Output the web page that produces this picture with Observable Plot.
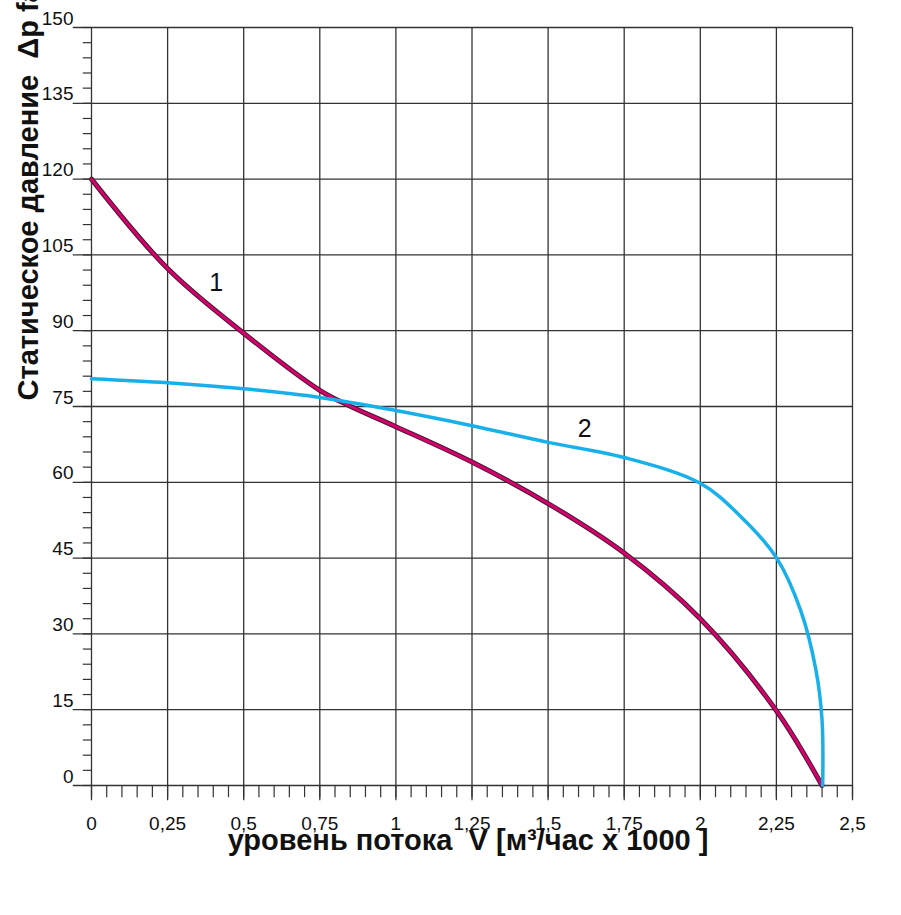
<!DOCTYPE html>
<html><head><meta charset="utf-8">
<script src="https://cdn.jsdelivr.net/npm/d3@7"></script>
<script src="https://cdn.jsdelivr.net/npm/@observablehq/plot@0.6"></script>
<style>body{margin:0;background:#fff}</style>
</head><body><div id="c"></div>
<script>
const c1x = [0,0.25,0.5,0.75,0.845,1.0,1.25,1.5,1.75,2.0,2.25,2.4];
const c1y = [120,102.3,89.5,78.2,75.2,71,64,55.8,46,33,14.8,0];
const c2x = [0,0.25,0.5,0.75,1.0,1.25,1.5,1.75,2.0,2.13,2.25,2.33,2.38,2.4,2.402];
const c2y = [80.5,79.7,78.5,76.8,74.2,71.2,67.9,64.9,59.8,53.4,45.1,34.6,22.8,12.9,0];
const xTicks = [0,0.25,0.5,0.75,1,1.25,1.5,1.75,2,2.25,2.5];
const xTickLabels = ["0","0,25","0,5","0,75","1","1,25","1,5","1,75","2","2,25","2,5"];
const yTicks = [0,15,30,45,60,75,90,105,120,135,150];
const seriesLabels = [{x:0.41,y:99.5,t:"1"},{x:1.62,y:70.5,t:"2"}];
const xMinor = d3.range(0,2.5001,0.05).map(v=>+v.toFixed(2));
const yMinor = d3.range(0,150.001,3);
const d1 = c1x.map((x,i)=>({x,y:c1y[i]}));
const d2 = c2x.map((x,i)=>({x,y:c2y[i]}));
const grid = "#333";
const ch = Plot.plot({
  width:901, height:915, marginLeft:91, marginRight:49, marginTop:27, marginBottom:130,
  x:{domain:[0,2.5], axis:null}, y:{domain:[0,150], axis:null},
  style:{fontFamily:"Liberation Sans, Arial, sans-serif", background:"#fff"},
  marks:[
    Plot.ruleX(xMinor,{x:d=>d,y1:-2.4,y2:0,stroke:grid,strokeWidth:1.2}),
    Plot.ruleY(yMinor,{y:d=>d,x1:-0.027,x2:0,stroke:grid,strokeWidth:1.2}),
    Plot.ruleX(xTicks,{x:d=>d,y1:-3,y2:150,stroke:grid,strokeWidth:1.3}),
    Plot.ruleY(yTicks,{y:d=>d,x1:-0.06,x2:2.5,stroke:grid,strokeWidth:1.3}),
    Plot.text(xTicks,{x:d=>d,y:0,text:(d,i)=>xTickLabels[i],dy:38,fontSize:19,fill:"#111"}),
    Plot.text(yTicks,{x:0,y:d=>d,text:d=>String(d),dx:-18,dy:-9,textAnchor:"end",fontSize:19,fill:"#111"}),
    Plot.line(d1,{x:"x",y:"y",curve:"catmull-rom",stroke:"#4a1a30",strokeWidth:5}),
    Plot.line(d1,{x:"x",y:"y",curve:"catmull-rom",stroke:"#d4006e",strokeWidth:3}),
    Plot.line(d2,{x:"x",y:"y",curve:"catmull-rom",stroke:"#17b0ea",strokeWidth:3.5}),
    Plot.text(seriesLabels,{x:"x",y:"y",text:"t",fontSize:25,fill:"#111"}),
    Plot.text(["уровень потока  V [м³/час x 1000 ]"],{frameAnchor:"bottom",dy:64,text:d=>d,fontSize:29,fontWeight:"bold",fill:"#111",dx:-4}),
    Plot.text(["Статическое давление  Δp fa [Па]"],{frameAnchor:"left",dx:-63,dy:-6,rotate:-90,text:d=>d,fontSize:29,fontWeight:"bold",fill:"#111"})
  ]
});
document.getElementById("c").appendChild(ch);
</script></body></html>
